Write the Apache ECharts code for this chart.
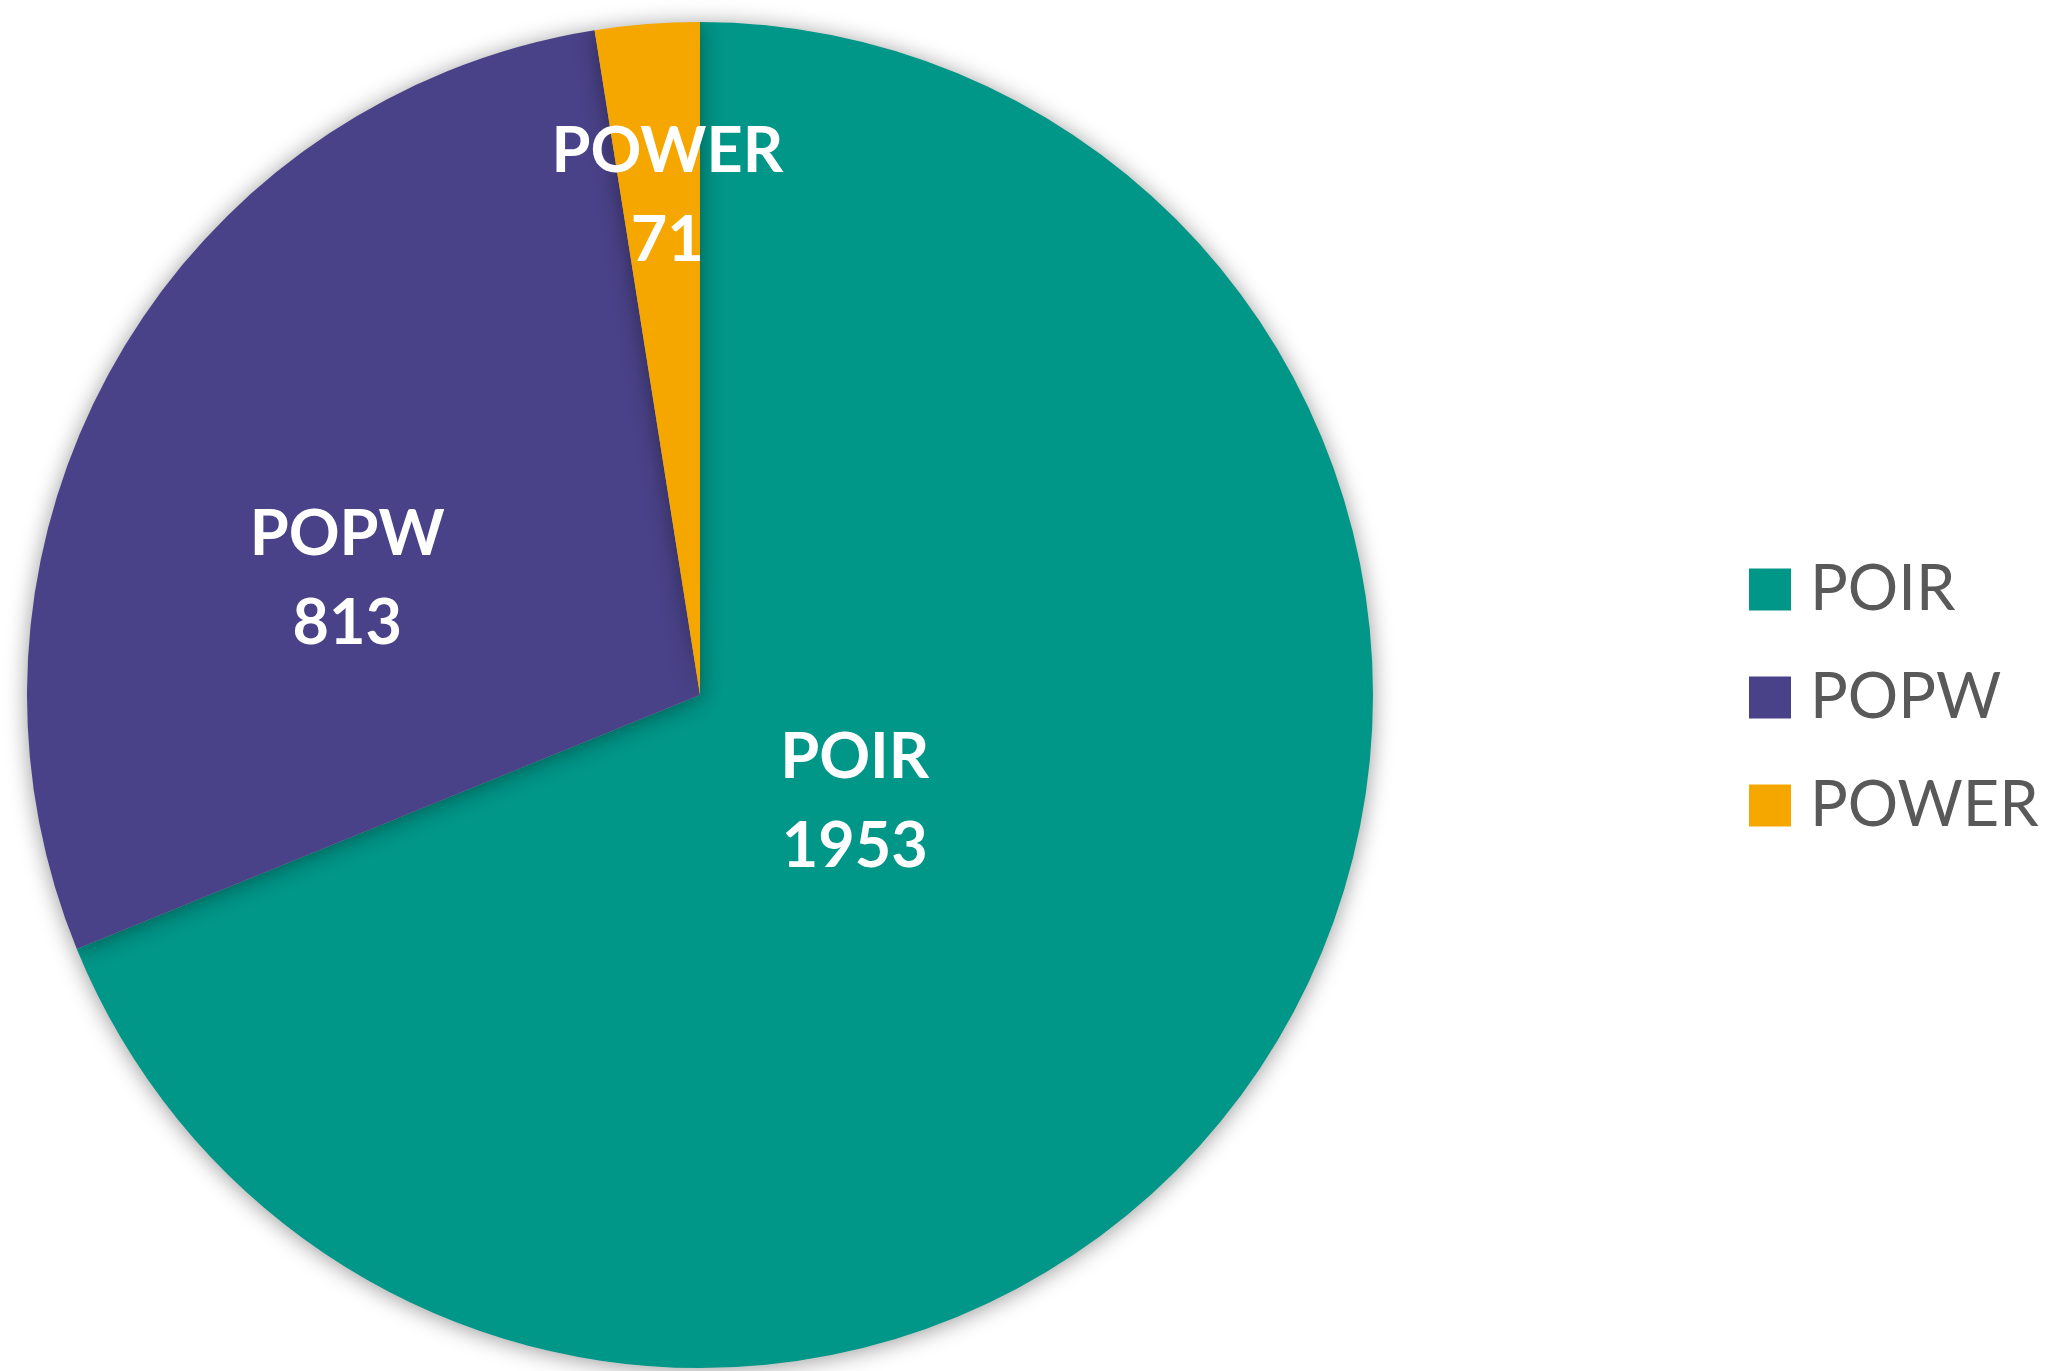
<!DOCTYPE html>
<html>
<head>
<meta charset="utf-8">
<script src="https://cdn.jsdelivr.net/npm/echarts@6/dist/echarts.min.js"></script>
<style>
html,body{margin:0;padding:0;background:#fff;}
#main{width:2056px;height:1371px;}
</style>
</head>
<body>
<div id="main"></div>
<script>
var categories = ['POIR', 'POPW', 'POWER'];
var values = [1953, 813, 71];
var colors = ['#009688', '#4A4288', '#F5A700'];

// przesunięcia etykiet względem domyślnego położenia "inside"
var labelShift = [[-127, -82], [-57, 51], [-6, -160]];

var pieData = categories.map(function(name, i){
    return {
        name: name,
        value: values[i],
        itemStyle: {color: colors[i]},
        label: {offset: labelShift[i]}
    };
});

var myChart = echarts.init(document.getElementById('main'));
var option = {
    animation: false,
    backgroundColor: '#fff',
    legend: {
        orient: 'vertical',
        left: 1744,
        top: 553,
        icon: 'rect',
        itemWidth: 42,
        itemHeight: 42,
        itemGap: 45,
        data: categories,
        textStyle: {
            fontFamily: 'Lato',
            fontSize: 63,
            color: '#595959',
            lineHeight: 42,
            padding: [0, 0, 0, 14]
        }
    },
    series: [{
        type: 'pie',
        center: [700, 695],
        radius: 673,
        startAngle: 90,
        clockwise: true,
        label: {
            show: true,
            position: 'inside',
            formatter: '{b}\n{c}',
            color: '#fff',
            fontFamily: 'Lato',
            fontWeight: 'bold',
            fontSize: 63,
            lineHeight: 89
        },
        labelLine: {show: false},
        itemStyle: {
            borderWidth: 0,
            shadowBlur: 22,
            shadowColor: 'rgba(0,0,0,0.4)',
            shadowOffsetX: 0,
            shadowOffsetY: 2
        },
        emphasis: {disabled: true},
        data: pieData
    }]
};
myChart.setOption(option);
</script>
</body>
</html>
